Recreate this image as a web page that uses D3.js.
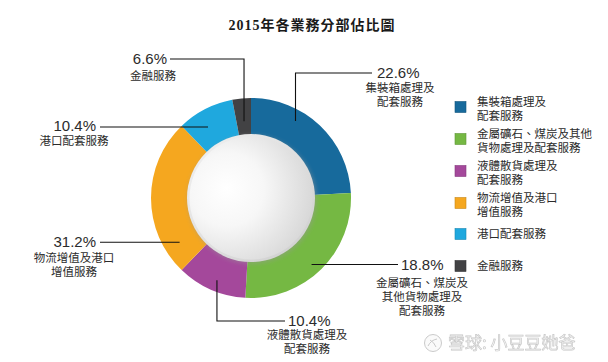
<!DOCTYPE html>
<html>
<head>
<meta charset="utf-8">
<script src="https://cdn.jsdelivr.net/npm/d3@7"></script>
<style>
  html, body { margin: 0; padding: 0; background: #fff; }
  svg { display: block; }
</style>
</head>
<body>
<svg id="chart" width="608" height="362"></svg>
<script>
// ---------------- DATA ----------------
const title = "2015年各業務分部佔比圖";
const categories = [
  "集裝箱處理及配套服務",
  "金屬礦石、煤炭及其他貨物處理及配套服務",
  "液體散貨處理及配套服務",
  "物流增值及港口增值服務",
  "港口配套服務",
  "金融服務"
];
// printed percentages (as labelled)
const percentLabels = ["22.6%", "18.8%", "10.4%", "31.2%", "10.4%", "6.6%"];
// slice sizes as drawn in the picture (share of the ring, %)
const sliceShares = [24.2, 26.7, 11.3, 25.6, 9.2, 3.0];
const labelLines = [
  ["集裝箱處理及", "配套服務"],
  ["金屬礦石、煤炭及", "其他貨物處理及", "配套服務"],
  ["液體散貨處理及", "配套服務"],
  ["物流增值及港口", "增值服務"],
  ["港口配套服務"],
  ["金融服務"]
];
const legendLines = [
  ["集裝箱處理及", "配套服務"],
  ["金屬礦石、煤炭及其他", "貨物處理及配套服務"],
  ["液體散貨處理及", "配套服務"],
  ["物流增值及港口", "增值服務"],
  ["港口配套服務"],
  ["金融服務"]
];
const colors = ["#176a9c", "#75b843", "#a4489b", "#f5a71f", "#1fa8de", "#424244"];

// ---------------- LAYOUT ----------------
const cx = 251, cy = 198, rOuter = 100, rInner = 64;
// leader: start angle (deg) / radius on the ring, then path to label
const leaders = [
  { a: 30,    r: 89, path: [["x", 0], ["y", 73], ["x", 372]], pct: { x: 377, y: 78, anchor: "start" }, txt: { x: 400, y: 92 } },
  { a: 137.7, r: 90, path: [["x", 398]],                   pct: { x: 401, y: 270, anchor: "start" }, txt: { x: 422, y: 287 } },
  { a: 202.5, r: 89, path: [["y", 321], ["x", 285]],       pct: { x: 288, y: 326, anchor: "start" }, txt: { x: 307, y: 339 } },
  { a: 238.2, r: 84, path: [["x", 100]],                   pct: { x: 96, y: 247, anchor: "end" },    txt: { x: 74, y: 262 } },
  { a: 328.8, r: 83, path: [["x", 100]],                   pct: { x: 96, y: 131, anchor: "end" },    txt: { x: 74, y: 145 } },
  { a: 354.8, r: 77, path: [["y", 59], ["x", 170]],        pct: { x: 167, y: 64, anchor: "end" },    txt: { x: 153, y: 80 } }
];
const legendY = [102, 134, 166, 198, 234, 266];
const lineGap = 14;

const cjk = "'Noto Sans CJK TC', 'Noto Sans CJK SC', sans-serif";
const latin = "'Liberation Sans', Arial, sans-serif";

const svg = d3.select("#chart");
const defs = svg.append("defs");

const grad = defs.append("radialGradient").attr("id", "disc")
  .attr("cx", "0.32").attr("cy", "0.45").attr("r", "0.85").attr("fx", "0.3").attr("fy", "0.42");
grad.append("stop").attr("offset", "0").attr("stop-color", "#ffffff");
grad.append("stop").attr("offset", "0.35").attr("stop-color", "#f7f7f7");
grad.append("stop").attr("offset", "0.8").attr("stop-color", "#d9d9d9");
grad.append("stop").attr("offset", "1").attr("stop-color", "#c9c9c9");

const rim = defs.append("linearGradient").attr("id", "rim")
  .attr("x1", "0").attr("y1", "0").attr("x2", "1").attr("y2", "1");
rim.append("stop").attr("offset", "0").attr("stop-color", "#f2f2f2");
rim.append("stop").attr("offset", "1").attr("stop-color", "#cdcdcd");

const blur = defs.append("filter").attr("id", "shadow").attr("x", "-20%").attr("y", "-20%").attr("width", "140%").attr("height", "140%");
blur.append("feGaussianBlur").attr("stdDeviation", 2);

// Title
svg.append("text")
  .attr("x", 312).attr("y", 30)
  .attr("text-anchor", "middle")
  .style("font-family", "'Liberation Serif', " + cjk)
  .style("font-weight", "bold")
  .style("font-size", "14px")
  .style("letter-spacing", "1px")
  .attr("fill", "#1a1a1a")
  .text(title);

// Donut
const pie = d3.pie().sort(null).value(d => d).startAngle(0).endAngle(2 * Math.PI);
const arcs = pie(sliceShares);
const arc = d3.arc().innerRadius(rInner - 2).outerRadius(rOuter);
const g = svg.append("g").attr("transform", `translate(${cx},${cy})`);
g.selectAll("path.slice").data(arcs).join("path")
  .attr("class", "slice")
  .attr("d", arc)
  .attr("fill", (d, i) => colors[i]);

// inner disc
g.append("circle").attr("r", rInner + 0.5).attr("cx", 1).attr("cy", 1.5)
  .attr("fill", "#9a9a9a").attr("opacity", 0.45).attr("filter", "url(#shadow)");
g.append("circle").attr("r", rInner).attr("fill", "url(#rim)");
g.append("circle").attr("r", rInner - 2.5).attr("fill", "url(#disc)");

// Leader lines and labels (one text block per label)
const rad = Math.PI / 180;
leaders.forEach((L, i) => {
  const p = d3.pointRadial(L.a * rad, L.r);
  let x = cx + p[0], y = cy + p[1];
  const pts = [[x, y]];
  L.path.forEach(([axis, v]) => {
    if (axis === "x") { if (v !== 0) x = v; } else { y = v; }
    pts.push([x, y]);
  });
  svg.append("path")
    .attr("d", d3.line()(pts))
    .attr("fill", "none")
    .attr("stroke", "#111")
    .attr("stroke-width", 1.1);

  const t = svg.append("text").attr("fill", "#2b2b2b");
  t.append("tspan")
    .attr("x", L.pct.x).attr("y", L.pct.y)
    .attr("text-anchor", L.pct.anchor)
    .style("font-family", latin)
    .style("font-size", "15px")
    .text(percentLabels[i]);
  labelLines[i].forEach((s, j) => {
    t.append("tspan")
      .attr("x", L.txt.x).attr("y", L.txt.y + j * lineGap)
      .attr("text-anchor", "middle")
      .style("font-family", cjk)
      .style("font-size", "11.5px")
      .text(s);
  });
});

// Legend
const leg = svg.append("g");
categories.forEach((c, i) => {
  const y0 = legendY[i];
  const sq = legendLines[i].length > 1 ? y0 + 5 : y0;
  leg.append("rect")
    .attr("x", 455).attr("y", sq - 5.5)
    .attr("width", 11).attr("height", 11)
    .attr("fill", colors[i])
    .attr("stroke", d3.color(colors[i]).darker(0.6))
    .attr("stroke-width", 0.6);
  const t = leg.append("text")
    .style("font-family", cjk)
    .style("font-size", "11.5px")
    .attr("fill", "#2b2b2b");
  legendLines[i].forEach((s, j) => {
    t.append("tspan")
      .attr("x", 477).attr("y", y0 + 4 + j * lineGap)
      .text(s);
  });
});

// Watermark
const wm = svg.append("g").attr("opacity", 0.9);
wm.append("circle").attr("cx", 433).attr("cy", 343).attr("r", 8.5)
  .attr("fill", "#fafafa").attr("stroke", "#c4c4c4").attr("stroke-width", 1);
wm.append("path").attr("d", "M428,346 q3,-6 9,-7 M430,340 q4,2 6,7")
  .attr("fill", "none").attr("stroke", "#c4c4c4").attr("stroke-width", 1);
wm.append("text")
  .attr("x", 448).attr("y", 349)
  .style("font-family", cjk)
  .style("font-size", "17px")
  .attr("fill", "#fbfbfb")
  .attr("stroke", "#c2c2c2")
  .attr("stroke-width", 0.7)
  .text("雪球: 小豆豆她爸");
</script>
</body>
</html>
